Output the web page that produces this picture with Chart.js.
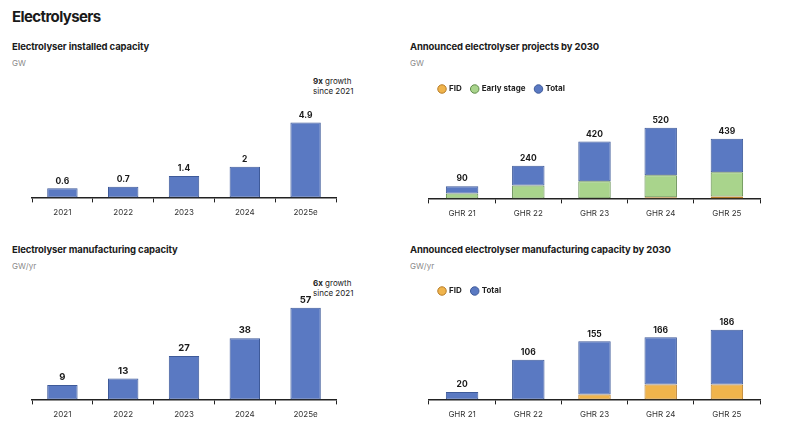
<!DOCTYPE html>
<html>
<head>
<meta charset="utf-8">
<script src="https://cdn.jsdelivr.net/npm/chart.js@4.4.1/dist/chart.umd.min.js"></script>
<style>
    body { margin: 0; background: #fff; font-family: Inter, "Noto Sans", sans-serif; color: #1a1a1a; }
    #page { position: relative; width: 798px; height: 444px; overflow: hidden; }
    .abs { position: absolute; }
    h1 { position: absolute; left: 12px; top: 7px; margin: 0; font-size: 15px; font-weight: 700; letter-spacing: -0.6px; }
    .sub { font-size: 9.5px; font-weight: 700; letter-spacing: -0.1px; }
    .unit { font-size: 8px; color: #8a8a8a; }
    .note { font-size: 8px; line-height: 10px; color: #222; }
    canvas { position: absolute; }
</style>
</head>
<body>
<div id="page">
    <h1>Electrolysers</h1>

    <div class="abs sub" style="left:12px; top:41px;">Electrolyser installed capacity</div>
    <div class="abs unit" style="left:12px; top:58px;">GW</div>
    <div class="abs note" style="left:313px; top:76px;"><b>9x</b> growth<br>since 2021</div>

    <div class="abs sub" style="left:410px; top:41px;">Announced electrolyser projects by 2030</div>
    <div class="abs unit" style="left:410px; top:58px;">GW</div>

    <div class="abs sub" style="left:12px; top:244px;">Electrolyser manufacturing capacity</div>
    <div class="abs unit" style="left:12px; top:261px;">GW/yr</div>
    <div class="abs note" style="left:313px; top:278px;"><b>6x</b> growth<br>since 2021</div>

    <div class="abs sub" style="left:410px; top:244px;">Announced electrolyser manufacturing capacity by 2030</div>
    <div class="abs unit" style="left:410px; top:261px;">GW/yr</div>

    <canvas id="c1" style="left:0; top:95px;" width="400" height="127"></canvas>
    <canvas id="c2" style="left:400px; top:75px;" width="398" height="148"></canvas>
    <canvas id="c3" style="left:0; top:280px;" width="400" height="144"></canvas>
    <canvas id="c4" style="left:400px; top:277px;" width="398" height="147"></canvas>
</div>

<script>
// ── data ─────────────────────────────────────────────────────
const years = ['2021', '2022', '2023', '2024', '2025e'];
const installedGW = [0.6, 0.7, 1.4, 2, 4.9];
const manufacturingGWyr = [9, 13, 27, 38, 57];

const reports = ['GHR 21', 'GHR 22', 'GHR 23', 'GHR 24', 'GHR 25'];
const projectsFID = [0, 0, 2, 8, 14];
const projectsEarly = [37, 95, 125, 162, 178];
const projectsTotal = [90, 240, 420, 520, 439];

const mfgFID = [0, 0, 13, 40, 40];
const mfgTotal = [20, 106, 155, 166, 186];

// ── style ────────────────────────────────────────────────────
const BLUE = '#5a79c2', BLUE_EDGE = '#3e5a99';
const GREEN = '#a9d48c', GREEN_EDGE = '#5f8a4a';
const ORANGE = '#f0b44c', ORANGE_EDGE = '#b77d2a';
const FONT = 'Inter, "Noto Sans", sans-serif';

// draws the total above each bar (top of the last stacked dataset)
const totalsPlugin = {
    id: 'totals',
    afterDatasetsDraw(chart, args, opts) {
        const ctx = chart.ctx;
        const last = chart.getDatasetMeta(chart.data.datasets.length - 1);
        ctx.save();
        ctx.font = `700 ${opts.size || 9}px ${FONT}`;
        ctx.fillStyle = '#1a1a1a';
        ctx.textAlign = 'center';
        ctx.textBaseline = 'bottom';
        last.data.forEach((bar, i) => {
            ctx.fillText(String(opts.values[i]), bar.x, bar.y - 3);
        });
        ctx.restore();
    }
};

function xAxis() {
    return {
        stacked: true,
        grid: { display: true, drawOnChartArea: false, drawTicks: true, tickLength: 5, color: '#222', lineWidth: 1, offset: true },
        border: { display: true, color: '#222', width: 1.5 },
        ticks: { color: '#333', font: { family: FONT, size: 8 }, padding: 5 }
    };
}

function makeChart(id, labels, datasets, opts) {
    return new Chart(document.getElementById(id), {
        type: 'bar',
        data: { labels, datasets },
        options: {
            responsive: false,
            animation: false,
            layout: { padding: opts.padding },
            datasets: { bar: { barPercentage: opts.barPct, categoryPercentage: 1, borderWidth: 1, borderSkipped: false } },
            scales: {
                x: xAxis(),
                y: { display: false, stacked: true, min: 0, max: opts.max }
            },
            plugins: {
                legend: opts.legend ? {
                    display: true,
                    align: 'start',
                    labels: {
                        usePointStyle: true, pointStyle: 'circle', boxWidth: 6, boxHeight: 6,
                        padding: 10, color: '#222', font: { family: FONT, size: 8, weight: '700' }
                    }
                } : { display: false },
                tooltip: { enabled: false },
                totals: { values: opts.totals, size: opts.labelSize }
            }
        },
        plugins: [totalsPlugin]
    });
}

// ── charts ───────────────────────────────────────────────────
makeChart('c1', years, [
    { label: 'Installed', data: installedGW, backgroundColor: BLUE, borderColor: BLUE_EDGE }
], { padding: { left: 32, right: 64, top: 0, bottom: 0 }, barPct: 0.5, max: 6.7, totals: installedGW, labelSize: 8.5 });

makeChart('c2', reports, [
    { label: 'FID', data: projectsFID, backgroundColor: ORANGE, borderColor: ORANGE_EDGE },
    { label: 'Early stage', data: projectsEarly, backgroundColor: GREEN, borderColor: GREEN_EDGE },
    { label: 'Total', data: projectsTotal.map((t, i) => t - projectsEarly[i] - projectsFID[i]), backgroundColor: BLUE, borderColor: BLUE_EDGE }
], { padding: { left: 29, right: 38, top: 0, bottom: 0 }, barPct: 0.49, max: 703, totals: projectsTotal, labelSize: 8.5, legend: true });

makeChart('c3', years, [
    { label: 'Manufacturing', data: manufacturingGWyr, backgroundColor: BLUE, borderColor: BLUE_EDGE }
], { padding: { left: 32, right: 64, top: 18, bottom: 0 }, barPct: 0.5, max: 63, totals: manufacturingGWyr, labelSize: 9.5 });

makeChart('c4', reports, [
    { label: 'FID', data: mfgFID, backgroundColor: ORANGE, borderColor: ORANGE_EDGE },
    { label: 'Total', data: mfgTotal.map((t, i) => t - mfgFID[i]), backgroundColor: BLUE, borderColor: BLUE_EDGE }
], { padding: { left: 29, right: 38, top: 0, bottom: 0 }, barPct: 0.49, max: 252, totals: mfgTotal, labelSize: 8.5, legend: true });
</script>
</body>
</html>
